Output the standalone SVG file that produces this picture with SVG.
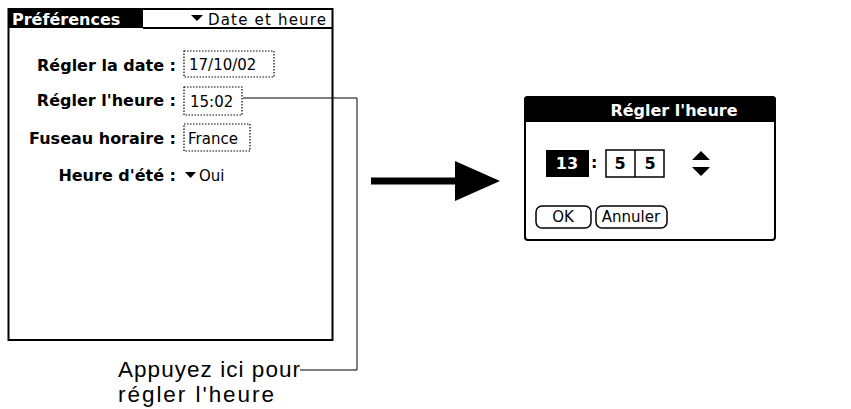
<svg xmlns="http://www.w3.org/2000/svg" width="851" height="409" viewBox="0 0 851 409">
<style>
.b{font-family:"DejaVu Sans",sans-serif;font-weight:bold;font-size:16px;fill:#000}
.n{font-family:"DejaVu Sans",sans-serif;font-size:15px;fill:#000}
.dot{fill:none;stroke:#000;stroke-width:1.2;stroke-dasharray:1.5 1.5}
.lbl{font-family:"Liberation Sans",Arial,sans-serif;font-size:22.5px;fill:#000}
</style>
<g id="screen">
<rect x="8.5" y="9" width="324" height="331" fill="#fff" stroke="#000" stroke-width="2"/>
<path d="M8 8 H143 V28 H8 Z" fill="#000"/>
<line x1="143" y1="28" x2="333" y2="28" stroke="#000" stroke-width="2"/>
<text x="12" y="25" class="b" style="fill:#fff">Préférences</text>
<path d="M191 15 h12 l-6 6 z" fill="#000"/>
<text x="208" y="25" class="n" textLength="118">Date et heure</text>
<text x="176" y="71" class="b" text-anchor="end">Régler la date :</text>
<rect x="184" y="51" width="90" height="26" class="dot"/>
<text x="189" y="70" class="n">17/10/02</text>
<text x="176" y="106" class="b" text-anchor="end">Régler l'heure :</text>
<rect x="184" y="87" width="58" height="28" class="dot"/>
<text x="190" y="107" class="n">15:02</text>
<text x="176" y="144" class="b" text-anchor="end">Fuseau horaire :</text>
<rect x="184" y="124" width="66" height="27" class="dot"/>
<text x="188" y="144" class="n">France</text>
<text x="176" y="181" class="b" text-anchor="end">Heure d'été :</text>
<path d="M185 172 h11 l-5.5 6 z" fill="#000"/>
<text x="199" y="181" class="n">Oui</text>
</g>
<g id="dialog">
<rect x="525" y="97" width="250" height="143" rx="3" fill="#fff" stroke="#000" stroke-width="2"/>
<path d="M524 100 Q524 96 528 96 H772 Q776 96 776 100 V122 H524 Z" fill="#000"/>
<text x="674" y="116" class="b" text-anchor="middle" style="fill:#fff">Régler l'heure</text>
<rect x="546" y="150" width="43" height="27" fill="#000"/>
<text x="567" y="169" class="b" text-anchor="middle" style="fill:#fff">13</text>
<text x="591" y="168" class="b">:</text>
<rect x="606" y="150" width="58" height="27" fill="#fff" stroke="#000" stroke-width="1.5"/>
<line x1="635" y1="150" x2="635" y2="177" stroke="#000" stroke-width="1.5"/>
<text x="620" y="169" class="b" text-anchor="middle">5</text>
<text x="650" y="169" class="b" text-anchor="middle">5</text>
<path d="M692 160 l9 -9 l9 9 z M692 167 l9 9 l9 -9 z" fill="#000"/>
<rect x="536" y="206" width="55" height="22" rx="6" fill="#fff" stroke="#000" stroke-width="1.5"/>
<text x="563" y="222" class="n" text-anchor="middle">OK</text>
<rect x="596" y="206" width="71" height="22" rx="6" fill="#fff" stroke="#000" stroke-width="1.5"/>
<text x="631" y="222" class="n" text-anchor="middle">Annuler</text>
</g>
<g id="connectors">
<polyline points="243,98 357,98 357,370 300,370" fill="none" stroke="#000" stroke-width="1"/>
<line x1="371" y1="181" x2="460" y2="181" stroke="#000" stroke-width="7"/>
<path d="M455 161 L500 181 L455 201 Z" fill="#000"/>
</g>
<g id="label">
<text x="118" y="377" class="lbl" textLength="182">Appuyez ici pour</text>
<text x="118" y="402" class="lbl" textLength="156">régler l'heure</text>
</g>
</svg>
